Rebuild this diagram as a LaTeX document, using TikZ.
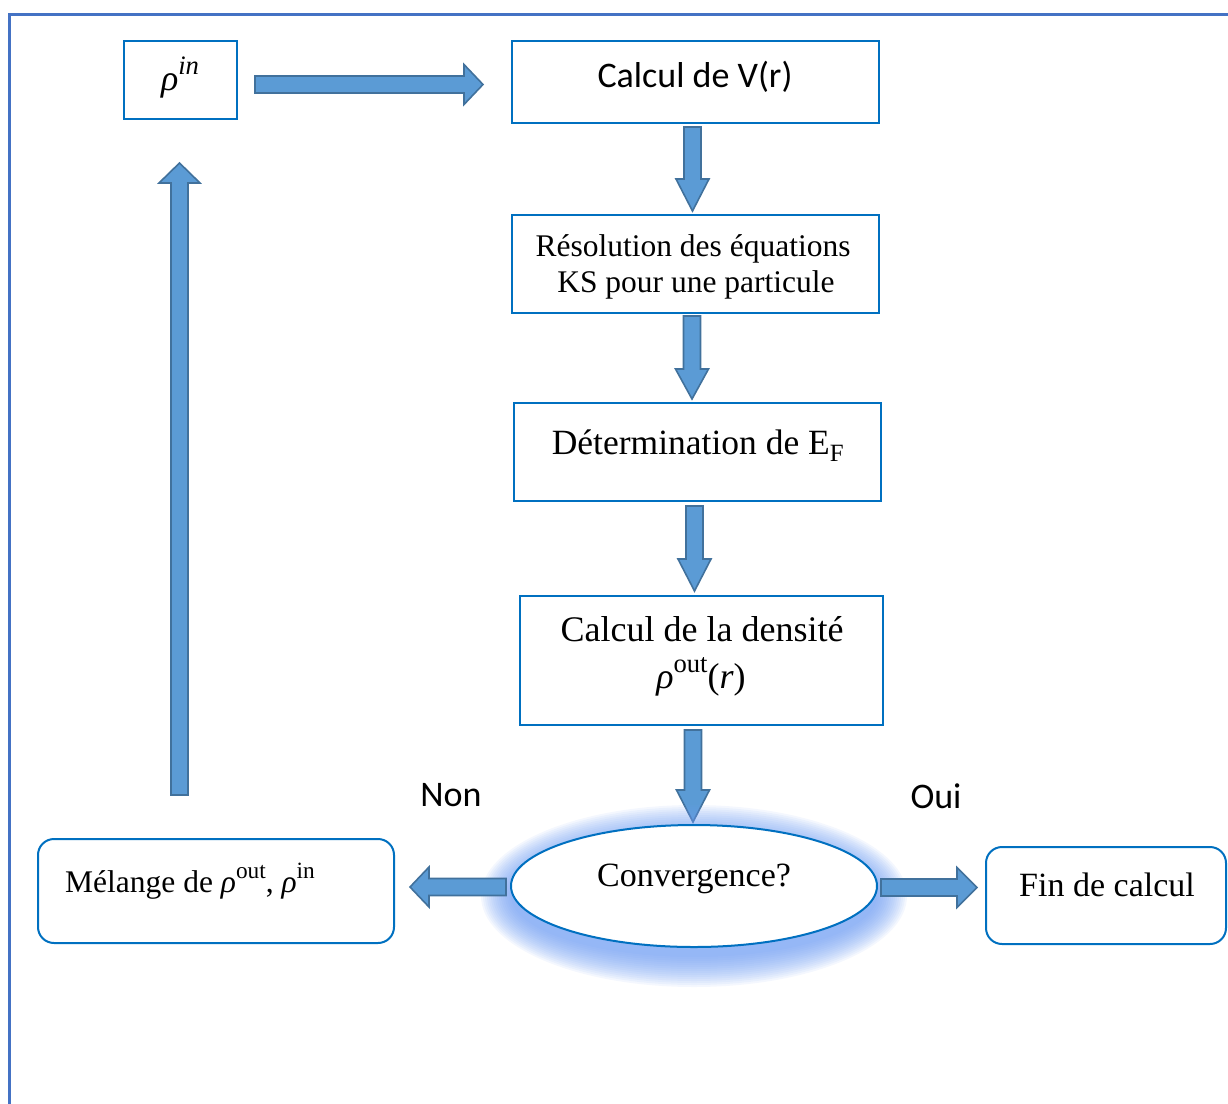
\documentclass[tikz,border=0pt]{standalone}
\usepackage{fontspec}
\setmainfont{Liberation Serif}
\newfontfamily\calib{Carlito}
\usetikzlibrary{shapes.geometric,calc}
\definecolor{boxblue}{HTML}{0070C0}
\definecolor{arrfill}{HTML}{5B9BD5}
\definecolor{arrline}{HTML}{41719C}
\definecolor{frameblue}{HTML}{4472C4}
\definecolor{glowblue}{HTML}{6E9CF2}
\newcommand\fsz[1]{\fontsize{#1}{#1}\selectfont}
\newcommand\rh{{\itshape ρ}}
\newcommand\sps[1]{\raisebox{0.42em}{\scalebox{0.74}{#1}}}
% block arrow: #1 start, #2 tip, #3 head length, #4 head half width
\newcommand\barrow[4]{%
  \coordinate (bh) at ($(#2)!#3!(#1)$);
  \draw[arrowst] ($(#1)!8.5pt!90:(#2)$) -- ($(bh)!8.5pt!90:(#2)$)
    -- ($(bh)!#4!90:(#2)$) -- (#2) -- ($(bh)!#4!-90:(#2)$)
    -- ($(bh)!8.5pt!-90:(#2)$) -- ($(#1)!8.5pt!-90:(#2)$) -- cycle;}
\begin{document}
\begin{tikzpicture}[x=1pt,y=-1pt,
  box/.style={draw=boxblue, line width=2pt, fill=white, inner sep=0pt},
  rbox/.style={box, rounded corners=16pt},
  txt/.style={inner sep=0pt, anchor=base},
  arrowst/.style={fill=arrfill, draw=arrline, line width=1.6pt, line join=miter}]
\useasboundingbox (0,0) rectangle (1228,1103);
\draw[frameblue, line width=3pt] (9,1110) -- (9,14) -- (1235,14);

% boxes
\node[box, minimum width=113pt, minimum height=78pt] (rin) at (180.5,80) {};
\node[box, minimum width=367pt, minimum height=82pt] (v) at (695.5,82) {};
\node[box, minimum width=367pt, minimum height=98pt] (ks) at (695.5,264) {};
\node[box, minimum width=367pt, minimum height=98pt] (ef) at (697.5,452) {};
\node[box, minimum width=363pt, minimum height=129pt] (rho) at (701.5,660.5) {};
\node[rbox, minimum width=356pt, minimum height=104pt] (mel) at (216,891) {};
\node[rbox, minimum width=240pt, minimum height=97pt] (fin) at (1106,895.5) {};

% texts
\node[txt, font=\fsz{36}] (trin) at (180,90) {\rh\sps{\itshape in}};
\node[txt, font=\calib\fsz{36}] (tv) at (695,87) {Calcul de V(r)};
\node[txt, font=\fsz{31.5}] (tks1) at (693,256) {Résolution des équations};
\node[txt, font=\fsz{31.5}] (tks2) at (696,292) {KS pour une particule};
\node[txt, font=\fsz{35.5}] (tef) at (698,454) {Détermination de E\textsubscript{F}};
\node[txt, font=\fsz{36}] (trho1) at (702,641) {Calcul de la densité};
\node[txt, font=\fsz{36}] (trho2) at (701,688) {\rh\sps{out}({\itshape r\/})};
\node[txt, font=\fsz{31.5}, anchor=base west] (tmel) at (65,892) {Mélange de \rh\sps{out}, \rh\sps{in}};
\node[txt, font=\fsz{34}] (tfin) at (1107,896) {Fin de calcul};
\node[txt, font=\calib\fsz{36}] (tnon) at (451,806) {Non};
\node[txt, font=\calib\fsz{36}] (toui) at (936,808) {Oui};

% arrow end points
\coordinate (a0s) at ($(rin.east)+(17,4.5)$);
\coordinate (a0e) at ($(v.west |- a0s)+(-28,0)$);
\coordinate (a1s) at ($(v.south)+(-3,3)$);
\coordinate (a1e) at ($(ks.north)+(-3,-3)$);
\coordinate (a2s) at ($(ks.south)+(-3.5,2)$);
\coordinate (a2e) at ($(ef.north)+(-5.5,-3)$);
\coordinate (a3s) at ($(ef.south)+(-3,4)$);
\coordinate (a3e) at ($(rho.north)+(-7,-4)$);
\coordinate (a4s) at ($(rho.south)+(-8.5,4)$);
\coordinate (a4e) at (a4s |- 0,822);

\barrow{a0s}{a0e}{19pt}{20pt}
\barrow{a1s}{a1e}{32pt}{16.5pt}
\barrow{a2s}{a2e}{30pt}{16.5pt}
\barrow{a3s}{a3e}{32pt}{16.5pt}
\barrow{a4s}{a4e}{32pt}{16.5pt}

% glow
\foreach \k in {0,...,15}{
  \pgfmathsetmacro\rx{183+2*\k}
  \pgfmathsetmacro\ry{61+2*\k}
  \fill[glowblue, opacity=0.08] (694,896) ellipse [x radius=\rx pt, y radius=\ry pt];
}
\node[ellipse, draw=boxblue, line width=2pt, fill=white, inner sep=0pt,
  minimum width=366pt, minimum height=122pt] (conv) at (694,886) {};
\node[txt, font=\fsz{34}] (tconv) at (694,886) {Convergence?};

\coordinate (a5s) at ($(conv.west)+(-4,1)$);
\coordinate (a5e) at ($(mel.east |- a5s)+(15,0)$);
\coordinate (a6s) at ($(conv.east)+(3,1.5)$);
\coordinate (a6e) at ($(fin.west |- a6s)+(-8,0)$);
\barrow{a5s}{a5e}{19pt}{20pt}
\barrow{a6s}{a6e}{20pt}{20pt}

\coordinate (u2) at ($(rin.south)+(-1,43)$);
\coordinate (u1) at ($(u2 |- mel.north)+(0,-43)$);
\barrow{u1}{u2}{20pt}{20.5pt}
\end{tikzpicture}
\end{document}
